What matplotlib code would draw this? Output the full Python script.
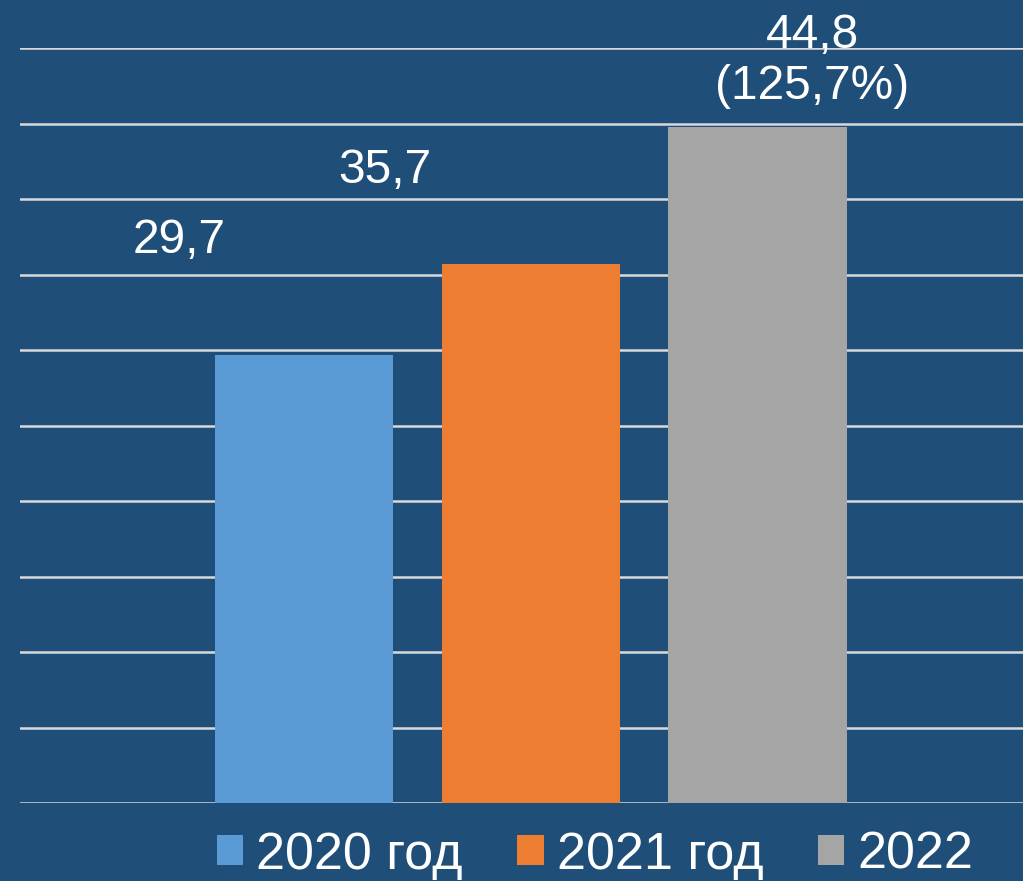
import matplotlib
matplotlib.use("Agg")
import matplotlib.pyplot as plt
from matplotlib.patches import Patch

series = ["2020 год", "2021 год", "2022"]
values = [29.7, 35.7, 44.8]
value_labels = ["29,7", "35,7", "44,8\n(125,7%)"]
colors = ["#5B9BD5", "#ED7D31", "#A5A5A5"]
label_offsets_px = [(-125, 102), (-146, 81), (55, 28)]

bg = "#1F4E79"
plt.rcParams['font.family'] = ['Liberation Sans', 'DejaVu Sans']

W, H = 1023, 881
fig = plt.figure(figsize=(W / 100, H / 100), dpi=100, facecolor=bg)
ax = fig.add_axes([20 / W, 78 / H, (W - 20) / W, 755 / H])
ax.set_facecolor(bg)

x = list(range(len(values)))
ax.bar(x, values, width=0.786, color=colors, zorder=3)
ax.set_ylim(0, 50)
ax.set_xlim(-1.253, 3.171)
ax.set_yticks(range(0, 51, 5))
ax.yaxis.grid(True, color="#D9D9D9", linewidth=1.8, zorder=0)
ax.set_axisbelow(True)
ax.tick_params(left=False, bottom=False, labelleft=False, labelbottom=False)
for s in ax.spines.values():
    s.set_visible(False)

for xi, v, lab, off in zip(x, values, value_labels, label_offsets_px):
    ax.annotate(lab, xy=(xi, v), xytext=off, textcoords="offset pixels",
                ha="center", va="baseline", color="white", fontsize=34.5,
                linespacing=1.16, annotation_clip=False)

handles = [Patch(facecolor=c, edgecolor="none") for c in colors]
leg = fig.legend(handles, series, loc="center", bbox_to_anchor=(595 / W, 1 - 855 / H),
                 ncol=3, frameon=False, fontsize=37.5, handlelength=0.5,
                 handleheight=0.52, handletextpad=0.25, columnspacing=1.05,
                 borderpad=0, borderaxespad=0)
for t in leg.get_texts():
    t.set_color("white")

fig.savefig("out.png", dpi=100, facecolor=bg)
